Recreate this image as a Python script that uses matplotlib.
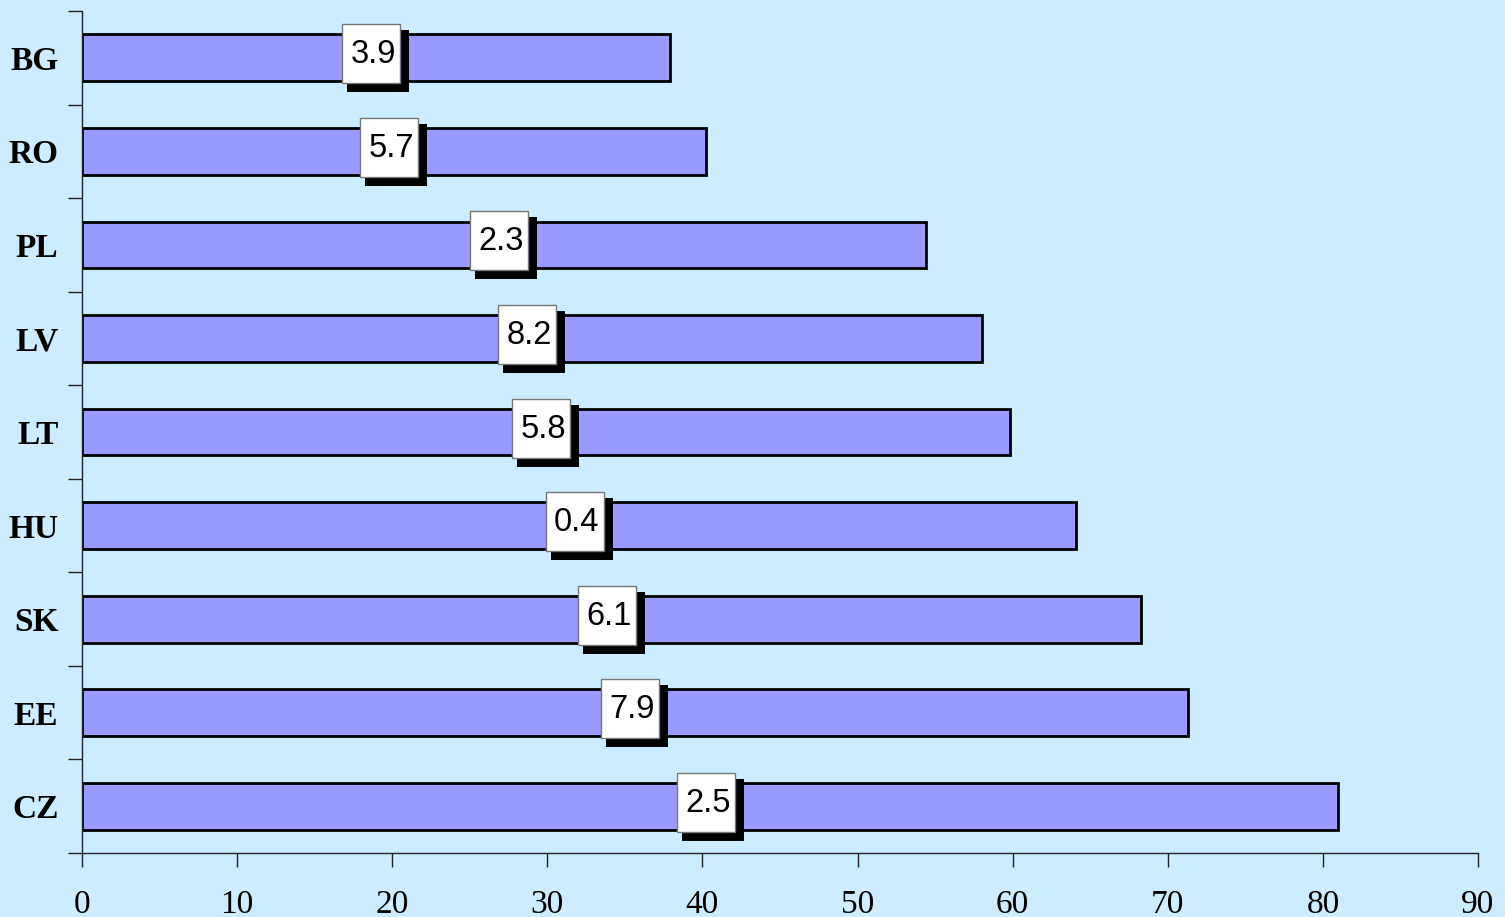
import numpy as np
import matplotlib.pyplot as plt
from matplotlib.patches import Rectangle
from matplotlib.transforms import ScaledTranslation

countries = ["BG", "RO", "PL", "LV", "LT", "HU", "SK", "EE", "CZ"]
bar_values = [37.9, 40.2, 54.4, 58.0, 59.8, 64.1, 68.3, 71.3, 81.0]
box_labels = ["3.9", "5.7", "2.3", "8.2", "5.8", "0.4", "6.1", "7.9", "2.5"]

bg = "#CCECFF"
bar_color = "#9999FF"

fig = plt.figure(figsize=(15.05, 9.17), dpi=100, facecolor=bg)
ax = fig.add_axes([82 / 1505, 1 - 853 / 917, (1478 - 82) / 1505, (853 - 11) / 917])
ax.set_facecolor(bg)

y = np.arange(len(countries))
ax.barh(y, bar_values, height=0.5, color=bar_color, edgecolor="black", linewidth=2, zorder=2)

ax.set_xlim(0, 90)
ax.set_ylim(len(countries) - 0.5, -0.5)

for s in ["top", "right"]:
    ax.spines[s].set_visible(False)
for s in ["left", "bottom"]:
    ax.spines[s].set_linewidth(1)
    ax.spines[s].set_color("#222222")

# x axis
ax.set_xticks(np.arange(0, 91, 10))
ax.tick_params(axis="x", direction="out", length=10, width=1, color="#222222", pad=16,
               labelsize=24)
for lab in ax.get_xticklabels():
    lab.set_fontfamily("Liberation Serif")

# y axis: ticks on category boundaries, labels on centres
ax.set_yticks(np.arange(-0.5, len(countries), 1.0))
ax.set_yticklabels([])
ax.tick_params(axis="y", which="major", direction="out", length=10, width=1, color="#222222")
ax.set_yticks(y, minor=True)
ax.set_yticklabels(countries, minor=True)
ax.tick_params(axis="y", which="minor", length=0, pad=17, labelsize=24)
for lab in ax.get_yticklabels(minor=True):
    lab.set_fontfamily("Liberation Serif")
    lab.set_fontweight("bold")

# value boxes with drop shadow, sized in inches around the bar midpoint
box_w, box_h = 0.58, 0.59
dx, dy = -0.045, 0.04
for yi, v, txt in zip(y, bar_values, box_labels):
    anchor = fig.dpi_scale_trans + ScaledTranslation(v / 2, yi, ax.transData)
    left, bottom = dx - box_w / 2, dy - box_h / 2
    ax.add_patch(Rectangle((left + 0.05, bottom - 0.09), box_w + 0.04, box_h + 0.03,
                           transform=anchor, facecolor="black", edgecolor="none", zorder=3))
    ax.add_patch(Rectangle((left, bottom), box_w, box_h,
                           transform=anchor, facecolor="white", edgecolor="#777777",
                           linewidth=1, zorder=4))
    ax.text(dx + 0.02, dy - 0.01, txt, transform=anchor, ha="center", va="center",
            fontsize=23.5, fontfamily="Liberation Sans", color="black", zorder=5)

fig.savefig("out.png", dpi=100, facecolor=bg)
